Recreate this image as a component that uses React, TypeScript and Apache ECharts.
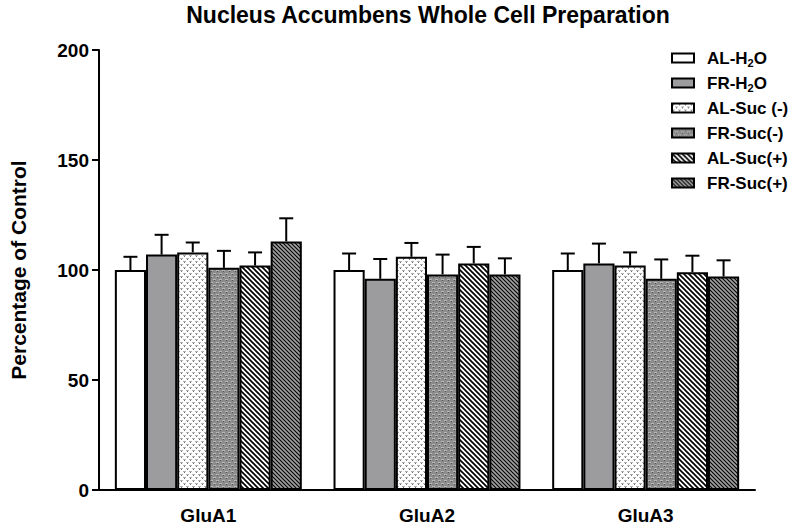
import React, { useEffect, useRef } from 'react';
import * as echarts from 'echarts';

const title = 'Nucleus Accumbens Whole Cell Preparation';
const categories = ['GluA1', 'GluA2', 'GluA3'];
const groupNames = ['AL-H2O', 'FR-H2O', 'AL-Suc (-)', 'FR-Suc(-)', 'AL-Suc(+)', 'FR-Suc(+)'];
const alH2O = [100, 100, 100];
const frH2O = [107, 96, 103];
const alSucMinus = [108, 106, 102];
const frSucMinus = [101, 98, 96];
const alSucPlus = [102, 103, 99];
const frSucPlus = [113, 98, 97];
const alH2OErr = [6, 7.5, 7.5];
const frH2OErr = [9, 9, 9];
const alSucMinusErr = [4.5, 6.3, 6];
const frSucMinusErr = [7.7, 9, 8.8];
const alSucPlusErr = [6, 7.5, 7.5];
const frSucPlusErr = [10.5, 7.3, 7.4];
const yTicks = [0, 50, 100, 150, 200];

const FONT = '"Liberation Sans", Arial, sans-serif';
const GAP = 0.145;

function makeCanvas(s: number) {
  const c = document.createElement('canvas');
  c.width = s;
  c.height = s;
  return c;
}

function speckle(bg: string, mid: string, dark: string) {
  const s = 6;
  const c = makeCanvas(s);
  const ctx = c.getContext('2d')!;
  ctx.fillStyle = bg;
  ctx.fillRect(0, 0, s, s);
  ctx.fillStyle = mid;
  [[0, 0], [2, 0], [1, 1], [3, 3], [5, 3], [4, 4], [1, 0], [4, 3]].forEach(([x, y]) => ctx.fillRect(x, y, 1, 1));
  ctx.fillStyle = dark;
  [[1, 1], [4, 4]].forEach(([x, y]) => ctx.fillRect(x, y, 1, 1));
  return { image: c, repeat: 'repeat', imageWidth: s, imageHeight: s };
}

function hatch(bg: string, s: number, lw: number) {
  const c = makeCanvas(s);
  const ctx = c.getContext('2d')!;
  ctx.fillStyle = bg;
  ctx.fillRect(0, 0, s, s);
  ctx.strokeStyle = '#000';
  ctx.lineWidth = lw;
  [-s, 0, s].forEach((k) => {
    ctx.beginPath();
    ctx.moveTo(k - 1, -1);
    ctx.lineTo(k + s + 1, s + 1);
    ctx.stroke();
  });
  return { image: c, repeat: 'repeat', imageWidth: s, imageHeight: s };
}

export default function App() {
  const ref = useRef<HTMLDivElement>(null);
  useEffect(() => {
    if (!ref.current) return;
    const chart = echarts.init(ref.current, null, { renderer: 'svg' });
    const values = [alH2O, frH2O, alSucMinus, frSucMinus, alSucPlus, frSucPlus];
    const errs = [alH2OErr, frH2OErr, alSucMinusErr, frSucMinusErr, alSucPlusErr, frSucPlusErr];
    const fills: any[] = [
      '#ffffff',
      '#9c9c9e',
      speckle('#ffffff', '#b0b0b0', '#707070'),
      speckle('#8c8c8c', '#b8b8b8', '#505050'),
      hatch('#ffffff', 5, 1.7),
      hatch('#a0a0a2', 4, 1.1),
    ];
    const barSeries = groupNames.map((name, i) => ({
      name,
      type: 'bar',
      data: values[i],
      barGap: '0%',
      barCategoryGap: GAP * 100 + '%',
      itemStyle: { color: fills[i], borderColor: '#000', borderWidth: 2 },
      z: 2,
    }));
    const errData: number[][] = [];
    values.forEach((vals, si) => {
      vals.forEach((v, ci) => errData.push([ci, si, v, errs[si][ci]]));
    });
    const errSeries = {
      type: 'custom',
      name: 'err',
      data: errData,
      encode: { x: 0, y: 2 },
      z: 5,
      renderItem: (params: any, api: any) => {
        const cat = api.value(0);
        const si = api.value(1);
        const v = api.value(2);
        const e = api.value(3);
        const base = api.coord([cat, v]);
        const top = api.coord([cat, v + e]);
        const band = api.size([1, 0])[0];
        const groupW = band * (1 - GAP);
        const bw = groupW / 6;
        const x = base[0] - groupW / 2 + bw * (si + 0.5);
        return {
          type: 'group',
          children: [
            { type: 'line', shape: { x1: x, y1: base[1], x2: x, y2: top[1] }, style: { stroke: '#000', lineWidth: 2 } },
            { type: 'line', shape: { x1: x - 7, y1: top[1], x2: x + 7, y2: top[1] }, style: { stroke: '#000', lineWidth: 2 } },
          ],
        };
      },
    };
    chart.setOption({
      animation: false,
      backgroundColor: '#ffffff',
      title: {
        text: title,
        left: 423,
        textAlign: 'center',
        top: 0,
        padding: [3, 5, 5, 5],
        textStyle: { fontFamily: FONT, fontWeight: 'bold', fontSize: 23, color: '#000' },
      },
      legend: {
        data: groupNames,
        orient: 'vertical',
        left: 666,
        top: 43,
        itemWidth: 22,
        itemHeight: 9,
        itemGap: 5,
        selectedMode: false,
        icon: 'rect',
        formatter: (name: string) => name.replace('H2O', 'H{s|2}O'),
        textStyle: {
          fontFamily: FONT,
          fontWeight: 'bold',
          fontSize: 17,
          color: '#000',
          lineHeight: 20,
          padding: [0, 0, 0, 8],
          rich: {
            s: { fontFamily: FONT, fontWeight: 'bold', fontSize: 11, color: '#000', padding: [9, 0, 0, 0] },
          },
        },
      },
      grid: { left: 95, right: 45, top: 50, bottom: 41, containLabel: false },
      xAxis: {
        type: 'category',
        data: categories,
        axisLine: { lineStyle: { color: '#000', width: 2 } },
        axisTick: { show: false },
        axisLabel: { fontFamily: FONT, fontWeight: 'bold', fontSize: 19, color: '#000', margin: 16 },
      },
      yAxis: {
        type: 'value',
        min: yTicks[0],
        max: yTicks[yTicks.length - 1],
        interval: 50,
        name: 'Percentage of Control',
        nameLocation: 'middle',
        nameGap: 70,
        nameTextStyle: { fontFamily: FONT, fontWeight: 'bold', fontSize: 21, color: '#000' },
        axisLine: { show: true, lineStyle: { color: '#000', width: 2 } },
        axisTick: { show: true, length: 7, lineStyle: { color: '#000', width: 2 } },
        axisLabel: { fontFamily: FONT, fontWeight: 'bold', fontSize: 19, color: '#000', margin: 10 },
        splitLine: { show: false },
      },
      series: [...barSeries, errSeries],
    });
    return () => chart.dispose();
  }, []);
  return <div ref={ref} style={{ position: 'absolute', left: 0, top: 0, width: 800, height: 531 }} />;
}
